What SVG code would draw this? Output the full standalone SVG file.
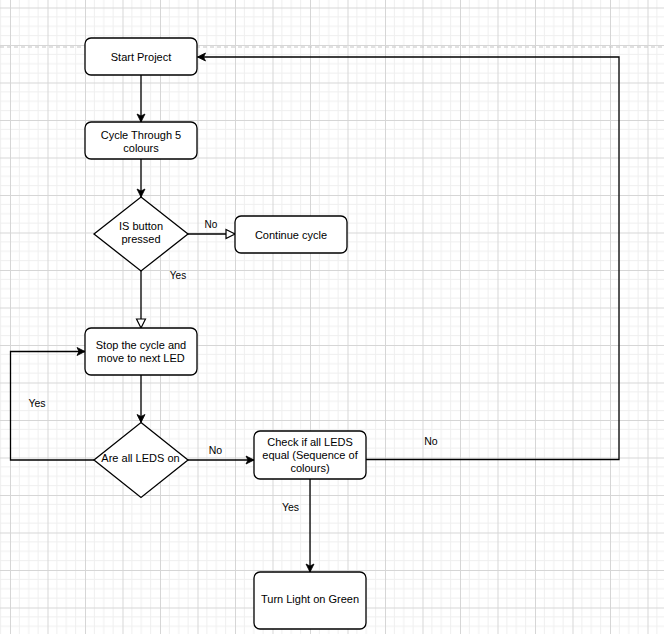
<svg xmlns="http://www.w3.org/2000/svg" width="664" height="634" viewBox="0 0 664 634">
  <style>
    .node { fill: #ffffff; stroke: #000000; stroke-width: 1.3; }
    .edge { fill: none; stroke: #000000; stroke-width: 1.3; }
    .txt { font-family: "Liberation Sans", Arial, Helvetica, sans-serif; font-size: 11px; fill: #000000; text-anchor: middle; }
    .lbl { font-family: "Liberation Sans", Arial, Helvetica, sans-serif; font-size: 10.5px; fill: #000000; text-anchor: middle; }
    .lbl-s { font-family: "Liberation Sans", Arial, Helvetica, sans-serif; font-size: 10px; fill: #000000; text-anchor: middle; }
    .minor { stroke: #efefef; stroke-width: 1; }
    .major { stroke: #d6d6d6; stroke-width: 1; }
  </style>
  <defs>
    <pattern id="grid" x="10" y="7.5" width="37.5" height="37.5" patternUnits="userSpaceOnUse">
      <path class="minor" d="M9.375,0 V37.5 M18.75,0 V37.5 M28.125,0 V37.5 M0,9.375 H37.5 M0,18.75 H37.5 M0,28.125 H37.5"/>
      <path class="major" d="M0.5,0 V37.5 M0,0.5 H37.5"/>
    </pattern>
    <marker id="arrow" viewBox="0 0 8 8" refX="8" refY="4" markerWidth="8" markerHeight="8" markerUnits="userSpaceOnUse" orient="auto" overflow="visible">
      <path d="M0,0 L8,4 L0,8 L2,4 Z" fill="#000000" stroke="#000000" stroke-width="0.8" stroke-linejoin="miter"/>
    </marker>
    <marker id="open" viewBox="0 0 9 9" refX="9" refY="4.5" markerWidth="9" markerHeight="9" markerUnits="userSpaceOnUse" orient="auto" overflow="visible">
      <path d="M0,0 L9,4.5 L0,9 Z" fill="#ffffff" stroke="#000000" stroke-width="1.2"/>
    </marker>
  </defs>

  <rect x="0" y="0" width="664" height="634" fill="#ffffff"/>
  <rect x="0" y="0" width="664" height="634" fill="url(#grid)"/>
  <line x1="0" y1="47" x2="664" y2="47" stroke="#c4c4c4" stroke-width="1" stroke-dasharray="4 3"/>

  <g id="connectors">
    <path class="edge" d="M141,75 V122" marker-end="url(#arrow)"/>
    <path class="edge" d="M141,159 V197" marker-end="url(#arrow)"/>
    <path class="edge" d="M188,234 H235" marker-end="url(#open)"/>
    <path class="edge" d="M141,271 V328" marker-end="url(#open)"/>
    <path class="edge" d="M141,375 V422.5" marker-end="url(#arrow)"/>
    <path class="edge" d="M94,460 H10.5 V351.5 H85" marker-end="url(#arrow)"/>
    <path class="edge" d="M188,460 H254" marker-end="url(#arrow)"/>
    <path class="edge" d="M366,459.5 H619 V57 H197.5" marker-end="url(#arrow)"/>
    <path class="edge" d="M310,479 V572" marker-end="url(#arrow)"/>
    <text class="lbl-s" x="211" y="228">No</text>
    <text class="lbl-s" x="178" y="279">Yes</text>
    <text class="lbl" x="37" y="406.5">Yes</text>
    <text class="lbl" x="215.5" y="454">No</text>
    <text class="lbl" x="431" y="445">No</text>
    <text class="lbl" x="290.5" y="510.5">Yes</text>
  </g>

  <g id="start-project">
    <rect class="node" x="85" y="38" width="112" height="37" rx="6"/>
    <text class="txt" x="141" y="61">Start Project</text>
  </g>
  <g id="cycle-colours">
    <rect class="node" x="85" y="122" width="112" height="37" rx="6"/>
    <text class="txt" x="141" y="138.5">Cycle Through 5</text>
    <text class="txt" x="141" y="152">colours</text>
  </g>
  <g id="is-button-pressed">
    <polygon class="node" points="141,197 188,234 141,271 94,234"/>
    <text class="txt" x="141" y="229.5">IS button</text>
    <text class="txt" x="141" y="243">pressed</text>
  </g>
  <g id="continue-cycle">
    <rect class="node" x="235" y="216" width="112" height="37" rx="6"/>
    <text class="txt" x="291" y="239">Continue cycle</text>
  </g>
  <g id="stop-cycle">
    <rect class="node" x="85" y="328" width="112" height="47" rx="6"/>
    <text class="txt" x="141" y="349">Stop the cycle and</text>
    <text class="txt" x="141" y="362">move to next LED</text>
  </g>
  <g id="are-all-leds-on">
    <polygon class="node" points="141,422.5 188,460 141,497.5 94,460"/>
    <text class="txt" x="140.5" y="461.5">Are all LEDS on</text>
  </g>
  <g id="check-leds-equal">
    <rect class="node" x="254" y="431" width="112" height="48" rx="6"/>
    <text class="txt" x="310" y="446">Check if all LEDS</text>
    <text class="txt" x="310" y="459">equal (Sequence of</text>
    <text class="txt" x="310" y="472">colours)</text>
  </g>
  <g id="turn-light-green">
    <rect class="node" x="254" y="572" width="112" height="57" rx="6"/>
    <text class="txt" x="310" y="603">Turn Light on Green</text>
  </g>
</svg>
